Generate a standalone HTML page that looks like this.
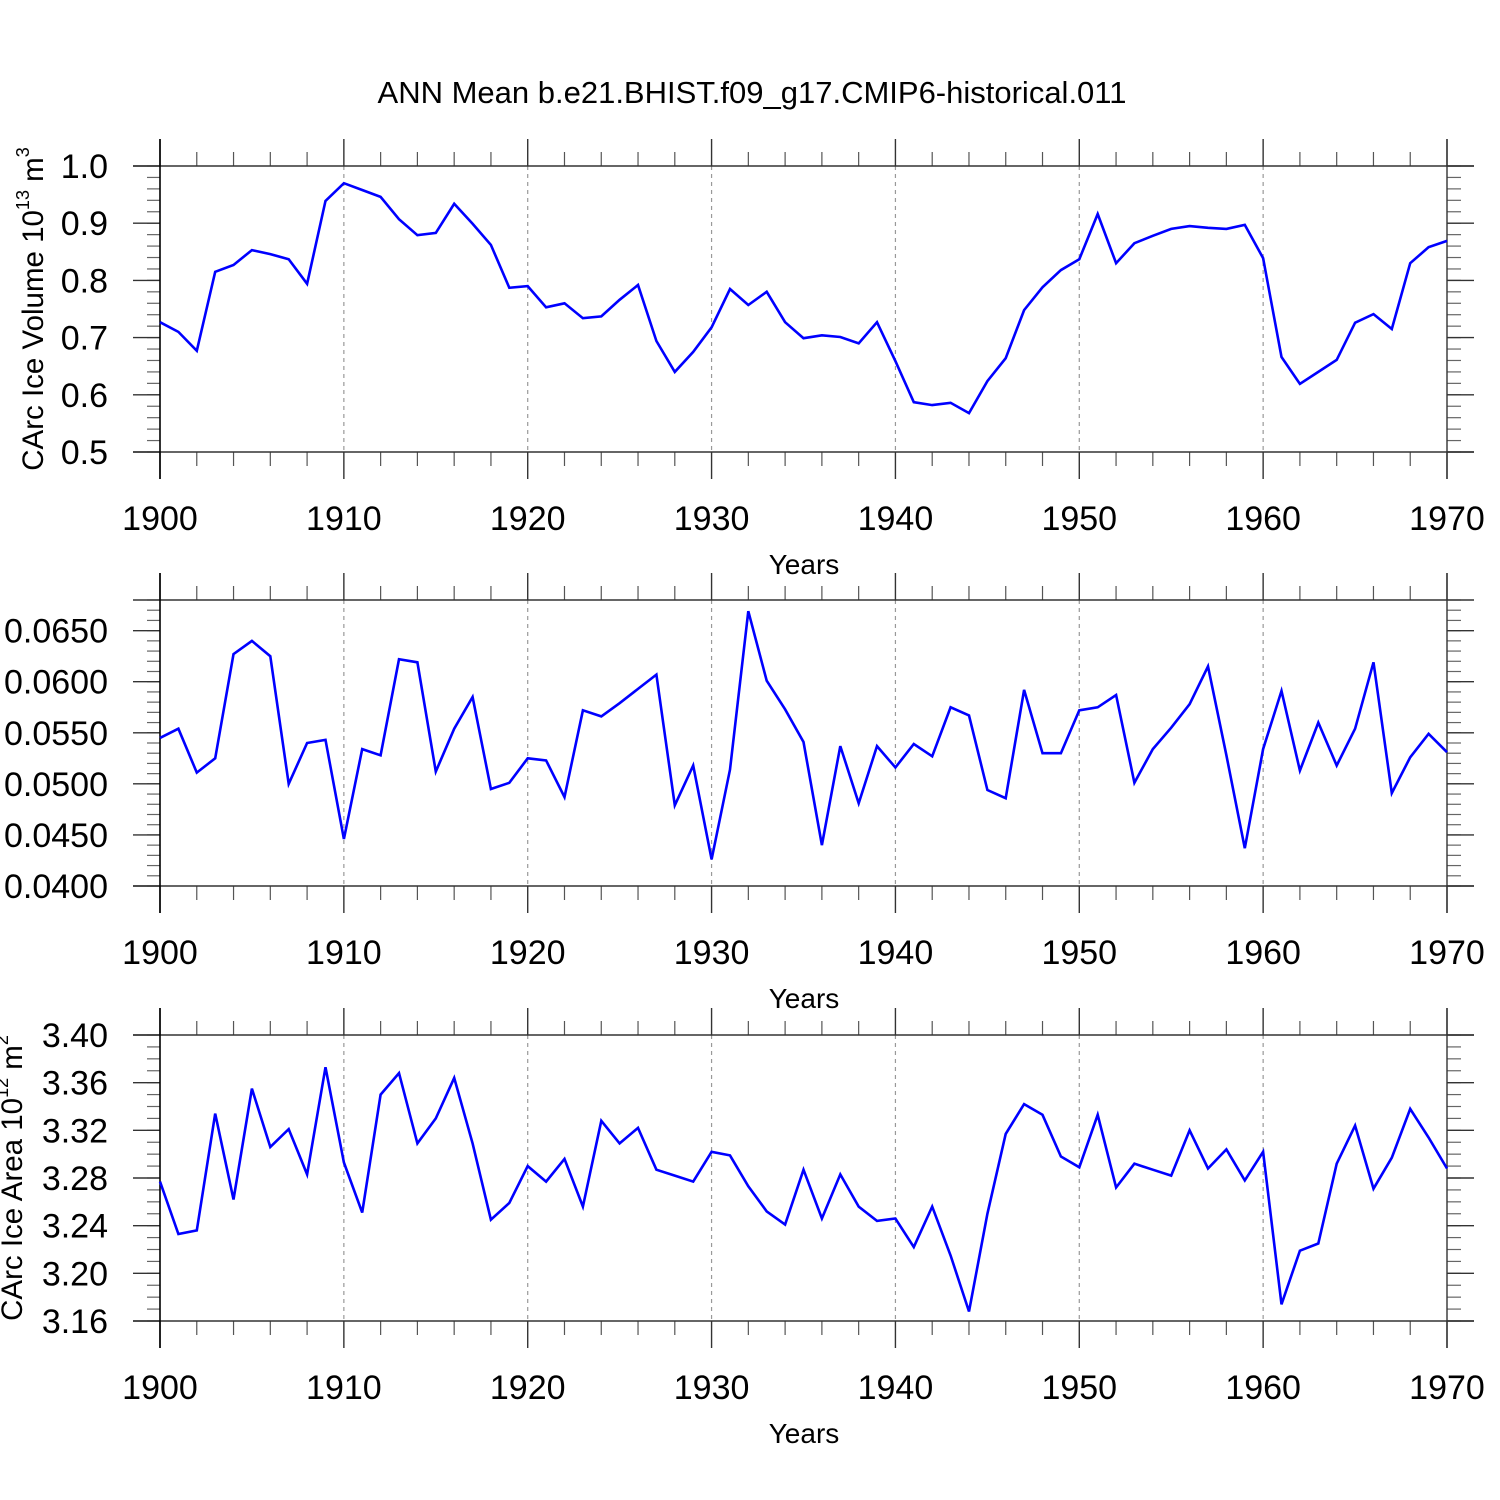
<!DOCTYPE html>
<html><head><meta charset="utf-8">
<style>html,body{margin:0;padding:0;background:#fff}svg{display:block}text{font-family:"Liberation Sans",sans-serif;fill:#000}</style>
</head><body>
<svg id="chart" width="1500" height="1500" viewBox="0 0 1500 1500" xmlns="http://www.w3.org/2000/svg">
<text x="752" y="103" font-size="31" text-anchor="middle">ANN Mean b.e21.BHIST.f09_g17.CMIP6-historical.011</text>
</svg>
<script>
const years = [];
for (let y = 1900; y <= 1970; y++) years.push(y);
const volume = [0.727,0.710,0.677,0.815,0.827,0.853,0.846,0.837,0.794,0.939,0.970,0.958,0.946,0.907,0.879,0.883,0.934,0.899,0.862,0.787,0.790,0.753,0.760,0.734,0.737,0.766,0.792,0.694,0.640,0.675,0.718,0.785,0.757,0.780,0.727,0.699,0.704,0.701,0.690,0.727,0.659,0.587,0.582,0.586,0.568,0.624,0.664,0.748,0.788,0.818,0.837,0.916,0.830,0.865,0.878,0.890,0.895,0.892,0.890,0.897,0.839,0.666,0.619,0.640,0.661,0.726,0.741,0.715,0.830,0.858,0.869];
const thickness = [0.0545,0.0554,0.0511,0.0525,0.0627,0.0640,0.0625,0.0500,0.0540,0.0543,0.0446,0.0534,0.0528,0.0622,0.0619,0.0512,0.0554,0.0585,0.0495,0.0501,0.0525,0.0523,0.0487,0.0572,0.0566,0.0579,0.0593,0.0607,0.0479,0.0518,0.0426,0.0514,0.0669,0.0601,0.0573,0.0541,0.0440,0.0537,0.0481,0.0537,0.0516,0.0539,0.0527,0.0575,0.0567,0.0494,0.0486,0.0592,0.0530,0.0530,0.0572,0.0575,0.0587,0.0501,0.0534,0.0555,0.0578,0.0615,0.0528,0.0437,0.0534,0.0591,0.0513,0.0560,0.0518,0.0554,0.0619,0.0491,0.0526,0.0549,0.0531];
const area = [3.277,3.233,3.236,3.334,3.262,3.355,3.306,3.321,3.283,3.373,3.293,3.251,3.350,3.368,3.309,3.330,3.364,3.309,3.245,3.259,3.290,3.277,3.296,3.256,3.328,3.309,3.322,3.287,3.282,3.277,3.302,3.299,3.273,3.252,3.241,3.287,3.246,3.283,3.256,3.244,3.246,3.222,3.256,3.215,3.168,3.250,3.317,3.342,3.333,3.298,3.289,3.333,3.272,3.292,3.287,3.282,3.320,3.288,3.304,3.278,3.302,3.174,3.219,3.225,3.292,3.324,3.271,3.297,3.338,3.314,3.288];
const xTicks = [1900,1910,1920,1930,1940,1950,1960,1970];
const volTicks = ["0.5","0.6","0.7","0.8","0.9","1.0"];
const thkTicks = ["0.0400","0.0450","0.0500","0.0550","0.0600","0.0650"];
const areaTicks = ["3.16","3.20","3.24","3.28","3.32","3.36","3.40"];

const NS = "http://www.w3.org/2000/svg";
const svg = document.getElementById('chart');
const L = 160, R = 1447;
function xs(yr){ return L + (yr-1900)*(R-L)/70; }
function mk(tag, attrs, parent){ const e=document.createElementNS(NS,tag); for(const k in attrs) e.setAttribute(k,attrs[k]); (parent||svg).appendChild(e); return e; }
function line(x1,y1,x2,y2,stroke,w,g,extra){ return mk('line',Object.assign({x1,y1,x2,y2,stroke,'stroke-width':w},extra||{}),g); }

function panel(name, top, bot, vmin, vmax, ticks, minorStep, data){
  const g = mk('g',{});
  
  
  const ys = v => bot - (v-vmin)*(bot-top)/(vmax-vmin);
  for (const t of xTicks.slice(1,-1)) {
    const gl = line(xs(t),top,xs(t),bot,'#999',1.2,g,{'stroke-dasharray':'4,4'});
    
    
  }
  for (let yr=1900; yr<=1970; yr+=2) {
    if (yr%10===0) continue;
    line(xs(yr),top,xs(yr),top-14,'#555',1.2,g);
    line(xs(yr),bot,xs(yr),bot+14,'#555',1.2,g);
  }
  for (const t of xTicks) {
    line(xs(t),top-27,xs(t),top,'#333',1.4,g);
    line(xs(t),bot,xs(t),bot+27,'#333',1.4,g);
    const tx = mk('text',{x:xs(t),y:bot+78,'font-size':34,'text-anchor':'middle'},g);
    tx.textContent = t;
    
    
  }
  const n = Math.round((vmax-vmin)/minorStep);
  for (let i=0;i<=n;i++){
    const y = ys(vmin+i*minorStep);
    line(L-13,y,L,y,'#666',1.2,g);
    line(R,y,R+14,y,'#666',1.2,g);
  }
  for (const t of ticks){
    const y = ys(parseFloat(t));
    line(L-27,y,L,y,'#333',1.4,g);
    line(R,y,R+27,y,'#333',1.4,g);
    const tx = mk('text',{x:108,y:y+12,'font-size':34,'text-anchor':'end'},g);
    tx.textContent = t;
    
    
  }
  line(L-27,top,R+27,top,'#333',1.4,g);
  line(L-27,bot,R+27,bot,'#333',1.4,g);
  line(L,top-27,L,bot+27,'#000',1.6,g);
  line(R,top-27,R,bot+27,'#333',1.4,g);
  const pts = data.map((v,i)=>xs(years[i]).toFixed(1)+','+ys(v).toFixed(1)).join(' ');
  const pl = mk('polyline',{points:pts,fill:'none',stroke:'#0000ff','stroke-width':2.6,'stroke-linejoin':'miter'},g);
  
  
  const xt = mk('text',{x:804,y:bot+122,'font-size':28,'text-anchor':'middle'},g);
  xt.textContent = 'Years';
  
  
  return g;
}
panel('volume',166,452,0.5,1.0,volTicks,0.02,volume);
panel('thickness',600,886,0.04,0.068,thkTicks,0.001,thickness);
panel('area',1035,1321,3.16,3.40,areaTicks,0.01,area);

function ytitle(x, cy, main, sup1, unit, sup2, name){
  const t = mk('text',{x:0,y:0,'font-size':29.5,'text-anchor':'middle',transform:`translate(${x},${cy}) rotate(-90)`});
  
  
  t.innerHTML = `${main}<tspan font-size="18" dy="-14">${sup1}</tspan><tspan dy="14"> ${unit}</tspan><tspan font-size="18" dy="-14">${sup2}</tspan>`;
}
ytitle(43,309,'CArc Ice Volume 10','13','m','3','volume-y-axis-title');
ytitle(22,1178,'CArc Ice Area 10','12','m','2','area-y-axis-title');
</script>
</body></html>
